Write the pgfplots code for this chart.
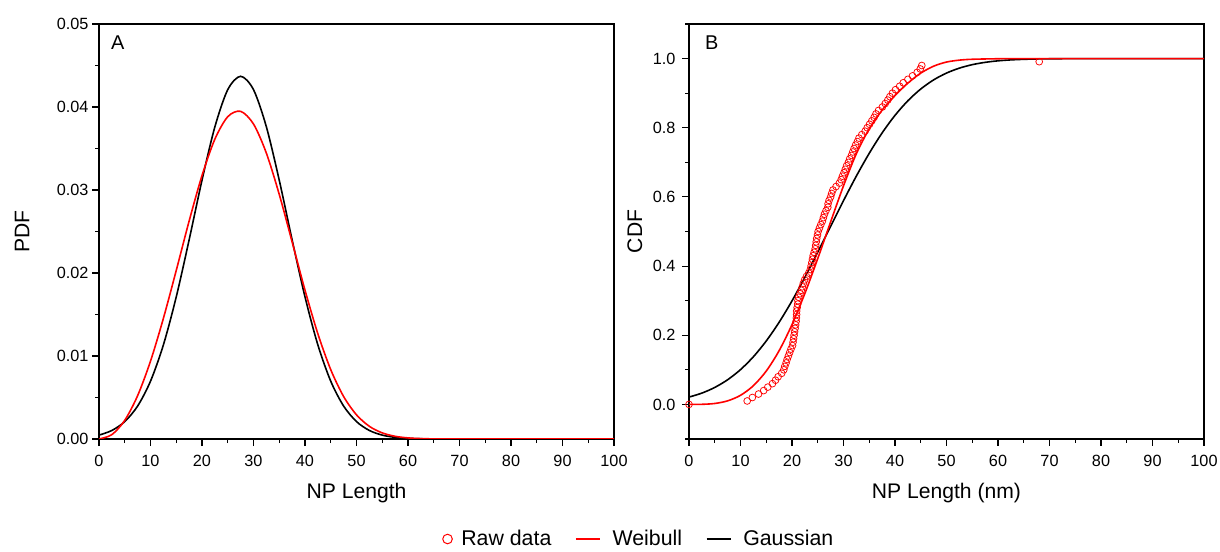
\documentclass[border=0pt]{standalone}
\usepackage{pgfplots}
\pgfplotsset{compat=1.18}
\usepackage{fontspec}
\setmainfont{Liberation Sans}
\pgfplotsset{shortline/.style={legend image code/.code={\draw (0bp,0bp) -- (24bp,0bp);}}}
\begin{document}
\begin{tikzpicture}
\pgfplotsset{
 base/.style={
  width=515bp, height=415bp, scale only axis,
  xmin=0, xmax=100, xtick={0,10,...,100}, minor xtick={5,15,...,95},
  tick pos=left, tick align=outside,
  major tick length=7bp, minor tick length=4bp,
  every tick/.style={black, line width=1.1bp},
  axis line style={line width=1.3bp},
  tick label style={font=\fontsize{16.3}{19}\selectfont},
  xticklabel style={yshift=-6bp},
  label style={font=\fontsize{21.2}{25}\selectfont},
  /pgf/number format/assume math mode=true,
  scaled y ticks=false,
  xlabel style={anchor=center},
  ylabel style={anchor=center},
 }
}
\path[use as bounding box] (0,0) rectangle (1220bp,552bp);
% ---------------- Panel A ----------------
\begin{axis}[base, at={(99bp,113bp)}, anchor=south west,
  ymin=0, ymax=0.05,
  ytick={0,0.01,0.02,0.03,0.04,0.05},
  minor ytick={0.005,0.015,0.025,0.035,0.045},
  yticklabel style={/pgf/number format/.cd,fixed,fixed zerofill,precision=2},
  xlabel={NP Length}, ylabel={PDF},
  xlabel style={at={(axis description cs:0.5,-0.13)}},
  ylabel style={at={(axis description cs:-0.1495,0.5)}},
]
\node[anchor=north west, inner sep=0pt, font=\fontsize{20}{24}\selectfont] at (axis description cs:0.0233,0.971) {A};
\addplot[black, line width=1.6bp, smooth] coordinates {
(0,0.000468)(2.5,0.001028)(5,0.002096)(7.5,0.003968)(10,0.006963)(12.5,0.01133)
(15,0.01712)(17.5,0.02399)(20,0.03118)(22.5,0.03761)(25,0.04209)(27.5,0.0437)
(30,0.04209)(32.5,0.03761)(35,0.03118)(37.5,0.02399)(40,0.01712)(42.5,0.01133)
(45,0.006963)(47.5,0.003968)(50,0.002096)(52.5,0.001028)(55,0.000468)(57.5,0.000198)
(60,0.0000774)(62.5,0.0000281)(65,0.00001)(70,0)(100,0)};
\addplot[red, line width=1.6bp, smooth] coordinates {
(0,0)(2.5,0.000526)(5,0.002249)(7.5,0.005222)(10,0.009379)(12.5,0.01453)
(15,0.02031)(17.5,0.02626)(20,0.03174)(22.5,0.03613)(25,0.03883)(27.5,0.03948)
(30,0.03795)(32.5,0.03444)(35,0.02947)(37.5,0.02374)(40,0.01793)(42.5,0.01267)
(45,0.008352)(47.5,0.005117)(50,0.002909)(52.5,0.001525)(55,0.000735)(57.5,0.000325)
(60,0.000131)(62.5,0.000048)(65,0.000016)(70,0)(100,0)};
\end{axis}
% ---------------- Panel B ----------------
\begin{axis}[base, at={(689bp,113bp)}, anchor=south west,
  ymin=-0.1, ymax=1.1,
  ytick={0,0.2,0.4,0.6,0.8,1.0},
  minor ytick={-0.1,0.1,0.3,0.5,0.7,0.9,1.1},
  yticklabel style={xshift=-3bp, /pgf/number format/.cd,fixed,fixed zerofill,precision=1},
  xlabel={NP Length (nm)}, ylabel={CDF},
  xlabel style={at={(axis description cs:0.5,-0.13)}},
  ylabel style={at={(axis description cs:-0.105,0.5)}},
  legend columns=3,
  legend style={at={(axis description cs:-0.097,-0.241)}, anchor=center,
    draw=none, fill=none, font=\fontsize{21.4}{25}\selectfont,
    nodes={inner ysep=0.5bp},
    /tikz/every even column/.append style={column sep=22bp}},
]
\node[anchor=north west, inner sep=0pt, font=\fontsize{20}{24}\selectfont] at (axis description cs:0.031,0.971) {B};
\addlegendimage{only marks, mark=o, red, mark size=4.8bp, mark options={line width=1bp}}
\addlegendentry{\hspace*{7bp}Raw data}
\addlegendimage{red, line width=1.2bp, shortline}
\addlegendentry{\hspace*{10bp}Weibull}
\addlegendimage{black, line width=1.2bp, shortline}
\addlegendentry{\hspace*{10bp}Gaussian}
\addplot[black, line width=1.6bp, smooth, forget plot] coordinates {
(0,0.0212)(2.5,0.0327)(5,0.0491)(7.5,0.0713)(10,0.1006)(12.5,0.1378)(15,0.1835)
(17.5,0.2376)(20,0.2994)(22.5,0.3677)(25,0.4404)(27.5,0.5150)(30,0.5892)(32.5,0.6604)
(35,0.7262)(37.5,0.7851)(40,0.8358)(42.5,0.8781)(45,0.9120)(47.5,0.9384)(50,0.9581)
(52.5,0.9724)(55,0.9824)(57.5,0.9891)(60,0.9935)(62.5,0.9962)(65,0.99786)(67.5,0.99884)
(70,0.99939)(75,0.99985)(80,0.99997)(90,1)(100,1)};
\addplot[only marks, red, mark=o, mark size=3.4bp, mark options={line width=0.75bp}, forget plot] coordinates {
(0,0)(11.3,0.01)(12.3,0.02)(13.5,0.03)(14.5,0.04)(15.3,0.05)(16.2,0.06)(16.8,0.07)
(17.3,0.08)(18.0,0.09)(18.4,0.10)(18.6,0.11)(18.85,0.12)(19.05,0.13)(19.3,0.14)
(19.55,0.15)(19.8,0.16)(20.1,0.17)(20.2,0.18)(20.3,0.19)(20.4,0.20)(20.5,0.21)
(20.6,0.22)(20.7,0.23)(20.8,0.24)(20.85,0.25)(20.9,0.26)(20.9,0.27)(21.0,0.28)
(21.1,0.29)(21.15,0.30)(21.3,0.31)(21.55,0.32)(21.8,0.33)(22.0,0.34)(22.2,0.35)
(22.45,0.36)(22.8,0.37)(23.25,0.38)(23.55,0.39)(23.7,0.40)(23.85,0.41)(23.97,0.42)
(24.1,0.43)(24.3,0.44)(24.5,0.45)(24.6,0.46)(24.7,0.47)(24.8,0.48)(24.95,0.49)
(25.07,0.50)(25.33,0.51)(25.6,0.52)(25.9,0.53)(26.1,0.54)(26.3,0.55)(26.6,0.56)
(26.95,0.57)(27.0,0.58)(27.2,0.59)(27.5,0.60)(27.7,0.61)(27.95,0.62)(28.55,0.63)
(29.2,0.64)(29.55,0.65)(29.8,0.66)(30.1,0.67)(30.35,0.68)(30.6,0.69)(30.95,0.70)
(31.2,0.71)(31.55,0.72)(31.8,0.73)(32.05,0.74)(32.35,0.75)(32.7,0.76)(33.0,0.77)
(33.55,0.78)(34.2,0.79)(34.6,0.80)(35.05,0.81)(35.5,0.82)(35.95,0.83)(36.3,0.84)
(36.8,0.85)(37.55,0.86)(38.1,0.87)(38.6,0.88)(39.0,0.89)(39.5,0.90)(40.1,0.91)
(40.9,0.92)(41.6,0.93)(42.5,0.94)(43.4,0.95)(44.3,0.96)(44.9,0.97)(45.2,0.98)
(68.0,0.991)};
\addplot[red, line width=1.6bp, smooth, forget plot] coordinates {
(0,0)(2.5,0.0003)(5,0.0027)(7.5,0.0103)(10,0.0263)(12.5,0.0541)(15,0.0965)
(17.5,0.1554)(20,0.2308)(22.5,0.3209)(25,0.4218)(27.5,0.5278)(30,0.6321)
(32.5,0.725)(35,0.797)(37.5,0.851)(40,0.893)(42.5,0.929)(45,0.958)(47.5,0.978)
(50,0.990)(52.5,0.9955)(55,0.998)(60,0.9995)(65,1)(100,1)};
\end{axis}
\end{tikzpicture}
\end{document}
